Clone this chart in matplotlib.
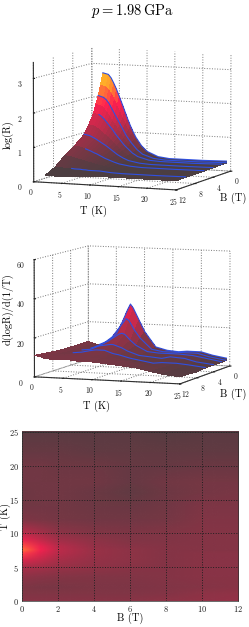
import numpy as np
import matplotlib
matplotlib.use("Agg")
import matplotlib.pyplot as plt
from matplotlib.colors import LinearSegmentedColormap, Normalize
from matplotlib.image import NonUniformImage

plt.rcParams['font.family'] = ['cmr10', 'DejaVu Serif']
plt.rcParams['axes.formatter.use_mathtext'] = True
plt.rcParams['mathtext.fontset'] = 'cm'
plt.rcParams['axes.unicode_minus'] = False

T1 = [2, 3, 3.5, 4, 4.5, 5, 5.5, 6, 6.5, 7, 7.5, 8, 9, 10, 12, 14, 20, 25]
B1 = [0, .5, 1, 1.5, 2, 3, 4, 6, 8, 10, 12]
LOGR_BY_B = [
    [2.72, 2.68, 2.58, 2.42, 2.24, 2.03, 1.82, 1.6, 1.38, 1.18, 1.0, .84, .6, .44, .3, .26, .26, .28],
    [2.38, 2.33, 2.25, 2.12, 1.96, 1.78, 1.6, 1.42, 1.24, 1.06, .92, .78, .56, .42, .3, .26, .26, .28],
    [2.08, 2.03, 1.96, 1.85, 1.7, 1.55, 1.4, 1.25, 1.1, .95, .83, .72, .53, .4, .29, .26, .26, .28],
    [1.85, 1.8, 1.73, 1.62, 1.5, 1.37, 1.25, 1.12, 1.0, .87, .76, .66, .5, .38, .29, .26, .26, .28],
    [1.6, 1.56, 1.5, 1.42, 1.32, 1.22, 1.12, 1.0, .9, .8, .7, .62, .47, .37, .28, .26, .26, .28],
    [1.3, 1.27, 1.22, 1.16, 1.09, 1.02, .95, .87, .79, .71, .63, .56, .44, .35, .28, .26, .26, .28],
    [1.05, 1.02, .98, .94, .89, .84, .79, .74, .68, .62, .56, .5, .41, .34, .28, .26, .26, .27],
    [.8, .78, .75, .72, .69, .66, .62, .59, .55, .51, .47, .44, .38, .33, .28, .26, .26, .27],
    [.6, .58, .56, .54, .52, .5, .48, .46, .44, .42, .4, .38, .35, .32, .27, .26, .26, .27],
    [.35, .35, .34, .34, .33, .33, .32, .32, .32, .31, .31, .3, .3, .3, .27, .26, .26, .27],
    [.2, .2, .2, .2, .2, .2, .21, .21, .22, .22, .23, .24, .25, .25, .26, .26, .26, .26],
]
LINE_B1 = [0, 1, 2, 4, 6, 10]
LINE_START1 = [2, 2, 3, 2, 4, 5]

T2 = [0, 1, 2, 3.5, 5, 6, 7, 7.5, 8, 9, 10, 12, 14, 16, 17.5, 20, 22, 25]
B2 = [0, 1, 2, 4, 6, 8, 10, 12]
DLOG = [
    [9.5, 9.5, 9.5, 9.5, 9.5, 10, 10.5, 11],
    [8.5, 8.5, 8.5, 8.5, 8.5, 9, 10, 10.5],
    [8, 7.5, 7.5, 8, 8, 8.5, 9, 9.5],
    [10, 9.5, 9, 8.5, 8.5, 9, 9.5, 9.5],
    [14, 13, 11.5, 10.5, 9.5, 9, 9.5, 9.5],
    [20, 17, 13.5, 11, 10, 9, 9.5, 9.5],
    [27, 21, 15.5, 11.5, 10, 9, 9.5, 9.5],
    [30, 23, 16, 11.5, 10, 9, 9, 9],
    [28, 22, 15.5, 11, 9.5, 9, 9, 9],
    [22, 17, 12.5, 10, 8.5, 8.5, 9, 9],
    [16, 13, 10, 8.5, 8, 8.5, 9, 9],
    [8, 7.5, 7, 6.5, 6.5, 7, 8.5, 8.5],
    [6.5, 6.5, 6.5, 6, 5.5, 6.5, 8, 8],
    [6, 6.5, 6.5, 5.5, 4.5, 6, 7, 7.5],
    [6.5, 6.5, 6.5, 6.5, 5, 6.5, 7, 7],
    [6.5, 6.5, 6, 6, 5, 5, 5.5, 5.5],
    [5, 5, 5, 4.5, 4.5, 4.5, 4.5, 4.5],
    [3.5, 3.5, 3.5, 3.5, 3.5, 3, 3.5, 3.5],
]
LINE_B2 = [0, 1, 2, 4, 6]
LINE_START2 = [2, 2, 2, 2, 2]

W, H = 249, 627
fig = plt.figure(figsize=(W / 100, H / 100), dpi=100, facecolor='white')
cmap = LinearSegmentedColormap.from_list('heat', [(0, '#404040'), (.62, '#ff2050'), (.8, '#ff8a30'), (1, '#ffe020')])
BLUE = '#3050e0'


def box(x0, y0, x1, y1):
    return [x0 / W, 1 - y1 / H, (x1 - x0) / W, (y1 - y0) / H]


def surface(rect, T, B, Z, vmin, vmax, zlim, zticks, view, lines, starts, aspect, zoom):
    ax = fig.add_axes(box(*rect), projection='3d')
    ax.patch.set_alpha(0)
    TT, BB = np.meshgrid(T, B, indexing='ij')
    Z = np.array(Z)
    ax.plot_surface(TT, BB, Z, cmap=cmap, vmin=vmin, vmax=vmax, linewidth=0, antialiased=False,
                    shade=False, rcount=60, ccount=60)
    for b, s in zip(lines, starts):
        j = list(B).index(b)
        m = np.array(T) >= s
        ax.plot(np.array(T)[m], [b] * m.sum(), Z[m, j] + zlim * .004, color=BLUE, lw=.8, zorder=10)
    ax.set_xlim(0, 25)
    ax.set_ylim(12, 0)
    ax.set_zlim(0, zlim)
    ax.set_xticks([0, 5, 10, 15, 20, 25])
    ax.set_yticks([0, 4, 8, 12])
    ax.set_zticks(zticks)
    ax.view_init(elev=view[0], azim=view[1])
    ax.set_proj_type('persp', focal_length=view[2])
    ax.set_box_aspect(aspect, zoom=zoom)
    for a in (ax.xaxis, ax.yaxis, ax.zaxis):
        a.set_pane_color((1, 1, 1, 0))
        a.pane.set_edgecolor('#888888')
        a.pane.set_linestyle(':')
        a.pane.set_linewidth(.7)
        a._axinfo['grid'].update(color='#777777', linestyle=':', linewidth=.7)
        a.line.set_color('#303030')
        a.line.set_linewidth(.8)
        a._axinfo['tick'].update(inward_factor=.1, outward_factor=0)
        a.set_tick_params(labelsize=5.5, pad=-5, colors='#202020')
    ax.zaxis.set_tick_params(pad=-3)
    ax.zaxis.set_ticks_position('upper')
    return ax


surface((-2, 24, 263, 216), T1, B1, np.array(LOGR_BY_B).T, .15, 2.85, 3.46, [0, 1, 2, 3], (7, -67.5, 4.0),
        LINE_B1, LINE_START1, (160, 155, 125), 1.23)
surface((-2, 220, 263, 412), T2, B2, DLOG, 0, 50, 60, [0, 20, 40, 60], (6.5, -69.5, 4.0),
        LINE_B2, LINE_START2, (160, 155, 122), 1.23)

ax = fig.add_axes(box(22, 432, 238, 601))
im = NonUniformImage(ax, interpolation='bilinear', cmap=cmap, norm=Normalize(0, 40), extent=(0, 12, 0, 25))
im.set_data(B2, T2, np.array(DLOG))
ax.add_image(im)
ax.set_xlim(0, 12)
ax.set_ylim(0, 25)
ax.set_xticks([0, 2, 4, 6, 8, 10, 12])
ax.set_yticks([0, 5, 10, 15, 20, 25])
ax.grid(True, color='#202020', linestyle=':', linewidth=.7)
ax.tick_params(labelsize=6, length=0, pad=2, colors='#202020')
for s in ax.spines.values():
    s.set_linewidth(.5)
    s.set_color('#303030')

fig.text(132 / W, 1 - 11 / H, r'$p = 1.98\,\mathrm{GPa}$', ha='center', va='center', fontsize=10.5)
for x, y, s, r in [(94, 211, 'T (K)', 0), (233, 198, 'B (T)', 0), (8, 135, 'log(R)', 90),
                   (96, 406, 'T (K)', 0), (233, 394, 'B (T)', 0), (8, 309, 'd(logR)/d(1/T)', 90),
                   (130, 618, 'B (T)', 0), (5, 516, 'T (K)', 90)]:
    fig.text(x / W, 1 - y / H, s, ha='center', va='center', rotation=r, fontsize=7.5)

fig.savefig('out.png', dpi=100)
